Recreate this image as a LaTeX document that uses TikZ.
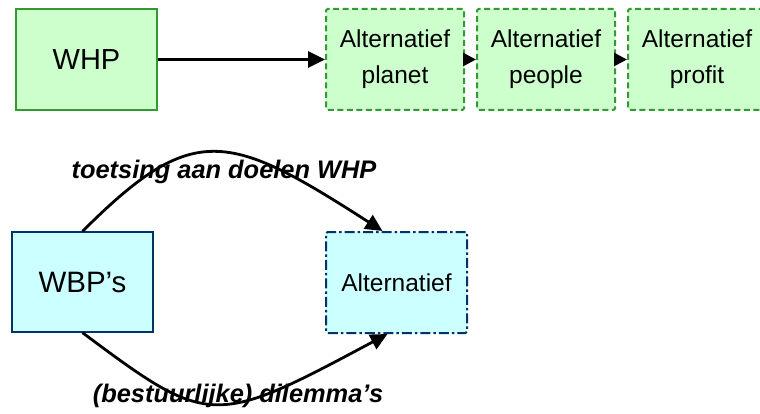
\documentclass[tikz,border=0pt]{standalone}
\usepackage{fontspec}
\setmainfont{Liberation Sans}
\usetikzlibrary{arrows.meta,positioning}
\definecolor{lightgreen}{RGB}{204,255,204}
\definecolor{midgreen}{RGB}{51,153,51}
\definecolor{lightcyan}{RGB}{204,255,255}
\definecolor{darkblue}{RGB}{0,51,102}

\begin{document}
\begin{tikzpicture}[x=1pt,y=-1pt,
  whpbox/.style={draw=midgreen, line width=1.3pt, fill=lightgreen, minimum width=141pt, minimum height=101pt, font=\fontsize{29}{34}\selectfont},
  altbox/.style={draw=midgreen, line width=2pt, dash pattern=on 6pt off 3.5pt, fill=lightgreen, rounded corners=1.5pt, minimum width=138pt, minimum height=101pt, align=center, font=\fontsize{24.5}{36}\selectfont},
  wbpbox/.style={draw=darkblue, line width=1.3pt, fill=lightcyan, minimum width=141pt, minimum height=100pt, font=\fontsize{29.5}{34}\selectfont},
  altcyan/.style={draw=darkblue, line width=2pt, dash pattern=on 10pt off 3pt on 2.5pt off 3pt, fill=lightcyan, rounded corners=1.5pt, minimum width=141pt, minimum height=101pt, font=\fontsize{24.5}{30}\selectfont},
  arr/.style={line width=2.8pt, -{Triangle[length=17pt,width=16pt]}},
  lbl/.style={font=\fontsize{25.4}{30}\selectfont\bfseries\itshape}]
\clip (0,0) rectangle (760,414);
\fill[white] (0,0) rectangle (760,414);
\node[whpbox] (whp) at (86.5,59.5) {WHP};
\node[altbox] (planet) at (395,59.5) {Alternatief\\planet};
\node[altbox] (people) at (546,59.5) {Alternatief\\people};
\node[altbox] (profit) at (697,59.5) {Alternatief\\profit};
\draw[arr] (whp) -- (planet);
\draw[arr, -{Triangle[length=13pt,width=13pt]}] (planet) -- (people);
\draw[arr, -{Triangle[length=13pt,width=13pt]}] (people) -- (profit);

\node[wbpbox] (wbp) at (82.5,282) {WBP’s};
\node[altcyan] (alt) at (396.5,282.5) {Alternatief};
\draw[arr] (wbp.north) .. controls +(111,-111) and +(-154,-99) .. ([xshift=-14pt]alt.north);
\draw[arr] (wbp.south) .. controls +(127,95) and +(-174,93) .. ([xshift=-9pt]alt.south);
\node[lbl] (test) at (224,172) {toetsing aan doelen WHP};
\node[lbl] (dilem) at (238,396) {(bestuurlijke) dilemma’s};
\end{tikzpicture}
\end{document}
